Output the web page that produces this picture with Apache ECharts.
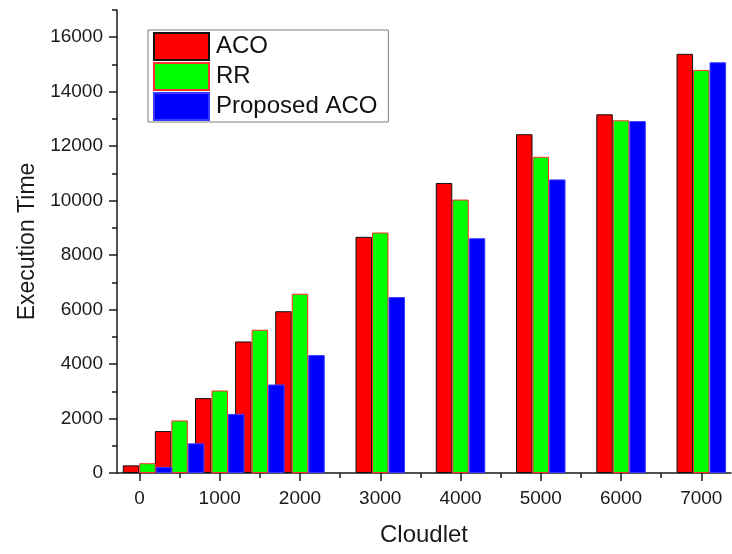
<!DOCTYPE html>
<html>
<head>
<meta charset="utf-8">
<script src="https://cdn.jsdelivr.net/npm/echarts@6/dist/echarts.min.js"></script>
<style>
html,body{margin:0;padding:0;background:#fff;}
#chart{width:732px;height:554px;}
</style>
</head>
<body>
<div id="chart"></div>
<script>
// Data
const cloudlets = [100, 500, 1000, 1500, 2000, 3000, 4000, 5000, 6000, 7000];
const aco      = [280, 1540, 2750, 4830, 5940, 8670, 10650, 12440, 13170, 15390];
const rr       = [360, 1930, 3030, 5260, 6580, 8830, 10040, 11610, 12950, 14800];
const proposed = [220, 1090, 2170, 3250, 4330, 6460, 8620, 10780, 12920, 15080];
const xMajorTicks = [0, 1000, 2000, 3000, 4000, 5000, 6000, 7000];
const xMinorTicks = [500, 1500, 2500, 3500, 4500, 5500, 6500];
const yMajorTicks = [0, 2000, 4000, 6000, 8000, 10000, 12000, 14000, 16000];
const yMinorTicks = [1000, 3000, 5000, 7000, 9000, 11000, 13000, 15000, 17000];

const pairs = (ys) => cloudlets.map((x, i) => [x, ys[i]]);
const FONT = 'Liberation Sans, Arial, sans-serif';
const AX = '#1a1a1a';
const plain = (v) => String(v);

const chart = echarts.init(document.getElementById('chart'), null, {renderer: 'canvas'});
const xBase = {
  type: 'value', min: -280, max: 7370, gridIndex: 0, position: 'bottom',
  splitLine: {show: false}
};
const yBase = {
  type: 'value', min: 0, max: 17000, gridIndex: 0, position: 'left',
  splitLine: {show: false}
};
chart.setOption({
  backgroundColor: '#ffffff',
  animation: false,
  grid: {left: 117, right: 1, top: 10, bottom: 81, containLabel: false},
  legend: {
    left: 148, top: 30, orient: 'vertical',
    icon: 'rect',
    itemWidth: 55, itemHeight: 27, itemGap: 1,
    padding: [2, 11, 1, 5],
    borderColor: '#808080', borderWidth: 1,
    backgroundColor: '#fff',
    textStyle: {fontFamily: FONT, fontSize: 24, lineHeight: 27, color: '#111', padding: [0, 0, 0, 2]},
    data: ['ACO', 'RR', 'Proposed ACO']
  },
  xAxis: [
    Object.assign({}, xBase, {
      name: 'Cloudlet', nameLocation: 'middle', nameGap: 50,
      nameTextStyle: {fontFamily: FONT, fontSize: 24, color: AX},
      axisLine: {show: true, onZero: false, lineStyle: {color: AX, width: 1.5}},
      axisTick: {show: true, inside: false, length: 8, customValues: xMajorTicks, lineStyle: {color: AX, width: 1.5}},
      axisLabel: {fontFamily: FONT, fontSize: 19, color: AX, margin: 16, customValues: xMajorTicks, formatter: plain}
    }),
    Object.assign({}, xBase, {
      axisLine: {show: false, onZero: false},
      axisTick: {show: true, inside: false, length: 5, customValues: xMinorTicks, lineStyle: {color: AX, width: 1.5}},
      axisLabel: {show: false, customValues: xMinorTicks}
    })
  ],
  yAxis: [
    Object.assign({}, yBase, {
      name: 'Execution Time', nameLocation: 'middle', nameGap: 77,
      nameTextStyle: {fontFamily: FONT, fontSize: 23, color: AX},
      axisLine: {show: true, onZero: false, lineStyle: {color: AX, width: 1.5}},
      axisTick: {show: true, inside: false, length: 8, customValues: yMajorTicks, lineStyle: {color: AX, width: 1.5}},
      axisLabel: {fontFamily: FONT, fontSize: 19, color: AX, margin: 14, customValues: yMajorTicks, formatter: plain}
    }),
    Object.assign({}, yBase, {
      axisLine: {show: false, onZero: false},
      axisTick: {show: true, inside: false, length: 5, customValues: yMinorTicks, lineStyle: {color: AX, width: 1.5}},
      axisLabel: {show: false, customValues: yMinorTicks}
    })
  ],
  series: [
    {name: 'ACO', type: 'bar', xAxisIndex: 0, yAxisIndex: 0, data: pairs(aco),
     barWidth: 16.5, barGap: '0%',
     itemStyle: {color: '#ff0000', borderColor: '#111', borderWidth: 1}},
    {name: 'RR', type: 'bar', xAxisIndex: 0, yAxisIndex: 0, data: pairs(rr),
     barWidth: 16.5, barGap: '0%',
     itemStyle: {color: '#00ff00', borderColor: '#ff3030', borderWidth: 1}},
    {name: 'Proposed ACO', type: 'bar', xAxisIndex: 0, yAxisIndex: 0, data: pairs(proposed),
     barWidth: 16.5, barGap: '0%',
     itemStyle: {color: '#0000ff', borderColor: '#3a3aff', borderWidth: 1}}
  ]
});
</script>
</body>
</html>
